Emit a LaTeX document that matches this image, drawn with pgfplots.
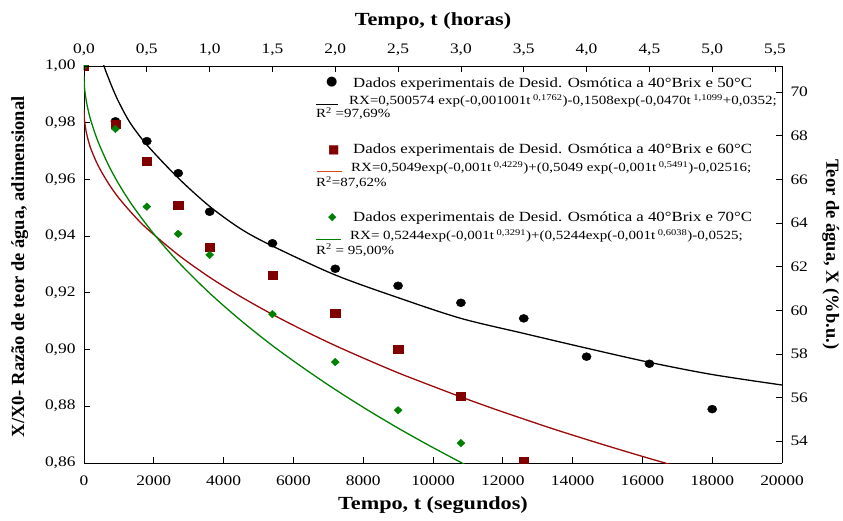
\documentclass[border=0pt]{standalone}
\usepackage{fontspec}
\setmainfont{Liberation Serif}[FakeStretch=1.2]
\newfontfamily\vfont{Liberation Serif}
\newfontfamily\symfont{DejaVu Sans}
\usepackage{pgfplots}
\pgfplotsset{compat=1.18}
\definecolor{dred}{HTML}{800000}
\definecolor{cred}{HTML}{9A0A0A}
\definecolor{dgreen}{HTML}{008000}
\definecolor{ored}{HTML}{D9481C}

\begin{document}
\begin{tikzpicture}
\useasboundingbox (-84pt,-57pt) rectangle (759pt,463pt);
\pgfplotsset{
  box/.style={
    scale only axis, width=698pt, height=397pt,
    tick align=inside, major tick length=6pt,
    tick style={black, line width=0.8pt},
    axis line style={line width=0.9pt},
    /pgf/number format/assume math mode=true,
    tick label style={font=\fontsize{14.5}{16}\selectfont},
    label style={font=\fontsize{18.5}{20}\selectfont\bfseries},
  }
}
\begin{axis}[box,
  xmin=0, xmax=20000, ymin=0.86, ymax=1.0,
  axis x line*=bottom, axis y line*=left,
  clip marker paths=true,
  scaled x ticks=false,
  xtick={0,2000,4000,6000,8000,10000,12000,14000,16000,18000,20000},
  ytick={0.86,0.88,0.90,0.92,0.94,0.96,0.98,1.00},
  xticklabel style={/pgf/number format/1000 sep={}, yshift=-9pt},
  yticklabel style={/pgf/number format/.cd, fixed, fixed zerofill, precision=2, use comma, /tikz/.cd, xshift=-5pt},
  xlabel={Tempo, t (segundos)},
  xlabel style={at={(axis description cs:0.5,-0.106)}, anchor=center},
  ylabel={\vfont\bfseries X/X0- Razão de teor de água, adimensional},
  ylabel style={at={(axis description cs:-0.092,0.494)}, anchor=center, rotate=0},
]
% fitted curves
\addplot[black, line width=1.3pt, smooth] coordinates {
  (450,1.006) (574,1.000) (700,0.9958) (841,0.9915) (1000,0.9872) (1320,0.9800)
  (1800,0.9722) (2700,0.9605) (3600,0.9505) (4500,0.9425) (5400,0.9365)
  (7200,0.9263) (9000,0.9183) (10800,0.911) (12600,0.9057) (14400,0.9005)
  (16200,0.8955) (18000,0.8912) (20000,0.8875)
};
\addplot[cred, line width=1.3pt, smooth] coordinates {
  (0,0.9846) (5,0.9824) (20,0.9802) (50,0.9777) (100,0.9748) (200,0.9707)
  (400,0.9650) (700,0.9586) (1000,0.9534) (1400,0.9477) (1800,0.9427)
  (2700,0.9334) (3600,0.9255) (4500,0.9186) (5400,0.9124) (6300,0.9067)
  (7200,0.9014) (8100,0.8965) (9000,0.8918) (9900,0.8875) (10800,0.8833)
  (11700,0.8793) (12600,0.8755) (13500,0.8718) (14400,0.8683) (15300,0.8649)
  (16200,0.8616) (17100,0.8584)
};
\addplot[dgreen, line width=1.3pt, smooth] coordinates {
  (0,0.9963) (5,0.9940) (20,0.9917) (50,0.9889) (100,0.9855) (200,0.9806)
  (400,0.9734) (700,0.9651) (1000,0.9583) (1400,0.9506) (2000,0.9408)
  (2700,0.9309) (3600,0.9199) (4500,0.9102) (5400,0.9014) (6300,0.8934)
  (7200,0.8859) (8100,0.8789) (9000,0.8723) (9900,0.8661) (10800,0.8602)
  (11200,0.8576)
};
% experimental data
\addplot[only marks, mark=*, mark size=4pt, black, every mark/.append style={xscale=1.15}] coordinates {
  (0,1.000) (900,0.9805) (1800,0.9735) (2700,0.9622) (3600,0.9486) (5400,0.9375)
  (7200,0.9285) (9000,0.9225) (10800,0.9165) (12600,0.911) (14400,0.8975)
  (16200,0.8950) (18000,0.879)
};
\addplot[only marks, mark=square*, mark size=4pt, dred, every mark/.append style={xscale=1.15}] coordinates {
  (0,1.000) (900,0.9795) (1800,0.9665) (2700,0.9508) (3600,0.936) (5400,0.9264)
  (7200,0.913) (9000,0.900) (10800,0.8835) (12600,0.8605)
};
\addplot[only marks, mark=diamond*, mark size=3.8pt, dgreen, every mark/.append style={xscale=1.4}] coordinates {
  (0,1.000) (900,0.9778) (1800,0.9504) (2700,0.9408) (3600,0.9334) (5400,0.9125)
  (7200,0.8956) (9000,0.8786) (10800,0.867)
};
\end{axis}
\begin{axis}[box,
  xmin=0, xmax=5.5556, ymin=53, ymax=71.2,
  axis x line*=top, axis y line*=right,
  xtick={0,0.5,1,1.5,2,2.5,3,3.5,4,4.5,5,5.5},
  ytick={54,56,58,60,62,64,66,68,70},
  xticklabel style={/pgf/number format/.cd, fixed, fixed zerofill, precision=1, use comma, /tikz/.cd, yshift=7pt},
  yticklabel style={xshift=5pt},
  xlabel={Tempo, t (horas)},
  xlabel style={at={(axis description cs:0.5,1.113)}, anchor=center},
  ylabel={\vfont\bfseries Teor de água, X (\%b.u.)},
  ylabel style={at={(axis description cs:1.070,0.526)}, anchor=center, rotate=180},
]
\end{axis}
% legend
\begin{scope}[every node/.style={inner sep=0pt, anchor=base west}]
\def\hd{\fontsize{14}{16}\selectfont}
\def\eq{\fontsize{12.5}{14}\selectfont}
\node at (242pt,377pt) {\symfont\fontsize{13}{14}\selectfont\textcolor{black}{●}};
\node at (269pt,375pt) {\hd Dados experimentais de Desid. Osmótica a 40°Brix e 50°C};
\node at (232pt,358pt) {\eq\textcolor{black}{\rule{22pt}{0.8pt}}\hspace{11pt}RX=0,500574 exp(-0,001001t\textsuperscript{ 0,1762})-0,1508exp(-0,0470t\textsuperscript{ 1,1099}+0,0352;};
\node at (232pt,345pt) {\eq R\textsuperscript{2} =97,69\%};
\node at (244pt,309pt) {\symfont\fontsize{12}{14}\selectfont\textcolor{dred}{■}};
\node at (269pt,309pt) {\hd Dados experimentais de Desid. Osmótica a 40°Brix e 60°C};
\node at (233pt,291pt) {\eq\textcolor{ored}{\rule{25pt}{0.8pt}}\hspace{9pt}RX=0,5049exp(-0,001t\textsuperscript{ 0,4229})+(0,5049 exp(-0,001t\textsuperscript{ 0,5491})-0,02516;};
\node at (232pt,276pt) {\eq R\textsuperscript{2}=87,62\%};
\node at (244pt,243pt) {\symfont\fontsize{11}{14}\selectfont\textcolor{dgreen}{◆}};
\node at (269pt,241pt) {\hd Dados experimentais de Desid. Osmótica a 40°Brix e 70°C};
\node at (232pt,223pt) {\eq\textcolor{dgreen}{\rule{25pt}{0.8pt}}\hspace{9pt}RX= 0,5244exp(-0,001t\textsuperscript{ 0,3291})+(0,5244exp(-0,001t\textsuperscript{ 0,6038})-0,0525;};
\node at (232pt,209pt) {\eq R\textsuperscript{2} = 95,00\%};
\end{scope}
\end{tikzpicture}
\end{document}
